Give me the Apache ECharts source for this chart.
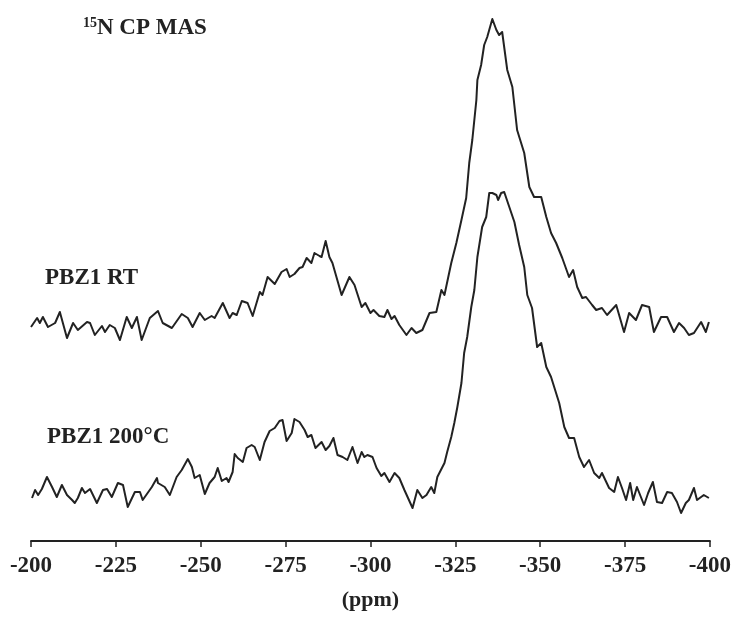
<!DOCTYPE html>
<html>
<head>
<meta charset="utf-8">
<script src="https://cdn.jsdelivr.net/npm/echarts@6/dist/echarts.min.js"></script>
<style>
  html, body { margin: 0; padding: 0; background: #fff; }
  #chart { width: 734px; height: 617px; }
</style>
</head>
<body>
<div id="chart"></div>
<script>
// chemical shift (ppm) and intensity (arbitrary units)
const rtSpectrum = [
  [-200.0, 214], [-201.8, 223], [-202.6, 218], [-203.5, 224], [-205.0, 214], [-207.1, 218],
  [-208.5, 229], [-210.6, 203], [-212.4, 218], [-213.8, 211], [-216.5, 219], [-217.4, 218],
  [-218.8, 206], [-220.9, 215], [-221.8, 209], [-223.2, 216], [-224.7, 213], [-226.2, 201],
  [-228.2, 224], [-229.7, 213], [-231.2, 224], [-232.6, 201], [-235.0, 223], [-237.4, 230],
  [-238.8, 218], [-241.5, 213], [-244.4, 227], [-246.2, 223], [-247.6, 214], [-249.7, 228],
  [-251.2, 221], [-253.2, 225], [-254.1, 223], [-256.5, 238], [-258.5, 223], [-259.4, 228],
  [-260.6, 226], [-262.1, 240], [-263.8, 238], [-265.3, 225], [-267.4, 249], [-268.2, 246],
  [-269.7, 264], [-271.8, 257], [-273.8, 269], [-275.3, 272], [-276.2, 264], [-277.6, 267],
  [-279.1, 273], [-280.0, 274], [-281.2, 283], [-282.6, 278], [-283.5, 288], [-285.0, 285],
  [-285.6, 284], [-286.8, 300], [-287.9, 284], [-288.8, 278], [-291.5, 246], [-293.8, 264],
  [-295.3, 256], [-297.4, 234], [-298.5, 238], [-300.0, 228], [-300.9, 231], [-302.6, 225],
  [-304.1, 224], [-305.0, 231], [-306.2, 222], [-307.1, 225], [-308.5, 216], [-310.6, 206],
  [-312.1, 213], [-313.5, 208], [-315.3, 211], [-317.4, 228], [-319.4, 229], [-320.9, 251],
  [-321.8, 246], [-323.8, 278], [-325.3, 298], [-326.8, 321], [-328.2, 343], [-329.1, 378],
  [-330.0, 401], [-331.2, 441], [-331.5, 461], [-332.6, 476], [-333.5, 496], [-334.4, 504],
  [-335.9, 522], [-337.1, 511], [-337.9, 506], [-338.8, 509], [-340.3, 471], [-341.8, 454],
  [-343.2, 411], [-345.3, 388], [-346.8, 354], [-348.2, 344], [-350.3, 344], [-351.8, 324],
  [-353.2, 308], [-354.7, 298], [-356.5, 283], [-358.5, 264], [-359.7, 271], [-360.9, 254],
  [-362.4, 243], [-363.5, 244], [-365.3, 236], [-366.5, 231], [-368.2, 233], [-369.7, 226],
  [-372.4, 236], [-374.7, 209], [-376.2, 228], [-378.2, 221], [-380.0, 236], [-382.1, 234],
  [-383.5, 209], [-385.6, 224], [-387.4, 224], [-389.4, 209], [-390.9, 218], [-392.4, 213],
  [-393.8, 206], [-395.3, 208], [-397.4, 219], [-398.8, 209], [-399.7, 219]
];

const annealedSpectrum = [
  [-200.3, 43], [-201.2, 51], [-202.1, 46], [-203.2, 52], [-204.7, 64], [-206.2, 54],
  [-207.6, 44], [-209.1, 56], [-210.6, 46], [-212.1, 41], [-212.9, 38], [-213.8, 43],
  [-215.0, 53], [-215.9, 48], [-217.4, 52], [-219.4, 38], [-221.2, 51], [-222.4, 52],
  [-223.8, 44], [-225.6, 58], [-227.1, 56], [-228.5, 34], [-230.6, 49], [-232.1, 49],
  [-232.9, 41], [-235.6, 54], [-237.1, 63], [-237.4, 58], [-239.4, 54], [-240.9, 46],
  [-242.9, 64], [-244.4, 71], [-246.2, 82], [-247.4, 74], [-248.2, 63], [-249.7, 66],
  [-251.2, 47], [-252.6, 58], [-254.1, 64], [-255.0, 73], [-256.2, 60], [-257.6, 63],
  [-258.2, 59], [-259.4, 69], [-260.0, 87], [-260.9, 83], [-262.4, 79], [-263.5, 93],
  [-265.0, 96], [-265.9, 94], [-267.4, 81], [-268.8, 99], [-270.3, 110], [-271.8, 113],
  [-273.2, 120], [-274.1, 121], [-275.3, 100], [-276.8, 108], [-277.6, 122], [-279.1, 119],
  [-280.6, 111], [-281.5, 104], [-282.6, 106], [-283.8, 93], [-285.6, 99], [-286.8, 91],
  [-287.9, 95], [-289.1, 103], [-290.3, 86], [-291.8, 84], [-293.2, 81], [-294.7, 94],
  [-296.2, 78], [-297.4, 89], [-298.2, 84], [-299.1, 86], [-300.6, 84], [-301.8, 73],
  [-303.2, 65], [-304.1, 68], [-305.6, 59], [-307.1, 68], [-308.5, 63], [-310.0, 51],
  [-312.4, 33], [-313.8, 51], [-315.3, 43], [-316.5, 46], [-317.9, 54], [-318.8, 48],
  [-319.7, 64], [-321.8, 78], [-322.6, 89], [-323.8, 104], [-324.7, 118], [-325.6, 134],
  [-326.8, 158], [-327.6, 188], [-328.5, 204], [-329.7, 234], [-330.6, 251], [-331.5, 284],
  [-332.9, 314], [-334.1, 324], [-335.0, 348], [-335.9, 348], [-337.1, 346], [-337.6, 341],
  [-338.5, 348], [-339.4, 349], [-340.9, 334], [-342.4, 319], [-343.8, 296], [-345.3, 274],
  [-346.2, 246], [-347.6, 233], [-349.1, 194], [-350.3, 198], [-351.8, 174], [-353.2, 164],
  [-355.6, 138], [-357.1, 114], [-358.5, 103], [-360.0, 103], [-361.5, 84], [-362.9, 74],
  [-364.4, 81], [-365.9, 68], [-367.4, 63], [-368.2, 68], [-370.3, 53], [-371.8, 49],
  [-372.9, 64], [-374.1, 53], [-375.3, 41], [-376.5, 58], [-377.4, 41], [-378.5, 54],
  [-380.6, 36], [-381.8, 48], [-383.2, 59], [-384.4, 39], [-385.9, 38], [-387.4, 49],
  [-388.8, 48], [-390.3, 39], [-391.5, 28], [-392.9, 38], [-393.8, 41], [-395.3, 53],
  [-396.2, 41], [-398.2, 46], [-399.7, 43]
];

const seriesNames = ['PBZ1 RT', 'PBZ1 200°C'];
const xRange = [-400, -200];
const xStep = 25;

const chart = echarts.init(document.getElementById('chart'));
const serif = '"Liberation Serif", "Times New Roman", serif';
const ink = '#222';

const option = {
  backgroundColor: '#fff',
  animation: false,
  grid: { left: 31, right: 23, top: 0, bottom: 76 },
  xAxis: {
    type: 'value',
    inverse: true,
    min: xRange[0],
    max: xRange[1],
    interval: xStep,
    name: '(ppm)',
    nameLocation: 'middle',
    nameGap: 48,
    nameTextStyle: { fontFamily: serif, fontWeight: 'bold', fontSize: 22, color: ink },
    axisLine: { lineStyle: { color: ink, width: 2 } },
    axisTick: { length: 6, lineStyle: { color: ink, width: 1.5 } },
    axisLabel: { fontFamily: serif, fontWeight: 'bold', fontSize: 23, color: ink, margin: 14 },
    splitLine: { show: false }
  },
  yAxis: {
    type: 'value',
    min: 0,
    max: 541,
    show: false
  },
  graphic: [
    {
      type: 'text', x: 83, y: 28,
      style: {
        text: '{sup|15}{main|N CP MAS}',
        verticalAlign: 'middle',
        rich: {
          sup: { fontFamily: serif, fontWeight: 'bold', fontSize: 14, fill: ink, verticalAlign: 'top', lineHeight: 24 },
          main: { fontFamily: serif, fontWeight: 'bold', fontSize: 23, fill: ink, lineHeight: 24 }
        }
      }
    },
    {
      type: 'text', x: 45, y: 278,
      style: { text: seriesNames[0], font: 'bold 23px ' + serif, fill: ink, verticalAlign: 'middle' }
    },
    {
      type: 'text', x: 47, y: 437,
      style: { text: seriesNames[1], font: 'bold 23px ' + serif, fill: ink, verticalAlign: 'middle' }
    }
  ],
  series: [
    {
      name: seriesNames[0],
      type: 'line',
      data: rtSpectrum,
      showSymbol: false,
      clip: false,
      lineStyle: { color: ink, width: 2, join: 'round' }
    },
    {
      name: seriesNames[1],
      type: 'line',
      data: annealedSpectrum,
      showSymbol: false,
      clip: false,
      lineStyle: { color: ink, width: 2, join: 'round' }
    }
  ]
};

chart.setOption(option);
</script>
</body>
</html>
